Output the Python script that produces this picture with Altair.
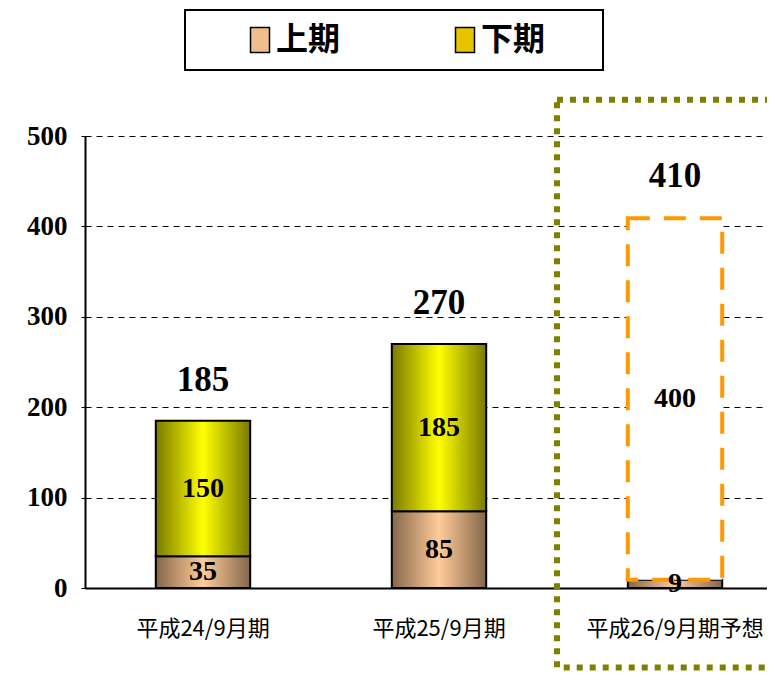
import altair as alt
import pandas as pd

categories = ["平成24/9月期", "平成25/9月期", "平成26/9月期予想"]
first_half = [35, 85, 9]
second_half = [150, 185, 400]
totals = [185, 270, 410]
forecast = [False, False, True]
series_names = ["上期", "下期"]
y_ticks = [0, 100, 200, 300, 400, 500]

# highlight box around the forecast category (value units)
HL_TOP = 540
HL_BOTTOM = -88

rows = []
for c, a, b, f in zip(categories, first_half, second_half, forecast):
    rows.append(dict(cat=c, series="上期", start=0, end=a, mid=a / 2, label=str(a), fc=False))
    rows.append(dict(cat=c, series="下期", start=a, end=a + b, mid=a + b / 2, label=str(b), fc=f))
df = pd.DataFrame(rows)
tot = pd.DataFrame(dict(cat=categories, total=totals))
hl = pd.DataFrame(dict(cat=[categories[2]], top=[HL_TOP], bottom=[HL_BOTTOM]))

xscale = alt.Scale(domain=categories, paddingInner=0.6, paddingOuter=0.2449, align=0.6125)
yscale = alt.Scale(domain=[0, 500], nice=False)

xaxis = alt.Axis(title=None, labelFont="Noto Sans CJK JP", labelFontSize=22, labelColor="black",
                 labelPadding=30, ticks=False, domainColor="black", domainWidth=2, labelAngle=0, grid=False)
yaxis = alt.Axis(title=None, values=y_ticks, labelFont="Liberation Serif", labelFontWeight="bold",
                 labelFontSize=27, labelColor="black", labelPadding=14, tickSize=4, tickColor="black",
                 domainColor="black", domainWidth=2, gridColor="black", gridDash=[6, 5], gridWidth=1,
                 gridOpacity=1)

X = alt.X("cat:N", scale=xscale, axis=xaxis, sort=categories)

def grad(edge, center):
    return alt.Gradient(gradient="linear", x1=0, x2=1, y1=0, y2=0,
                        stops=[alt.GradientStop(color=edge, offset=0),
                               alt.GradientStop(color=center, offset=0.5),
                               alt.GradientStop(color=edge, offset=1)])

base = alt.Chart(df).encode(x=X, y=alt.Y("start:Q", scale=yscale, axis=yaxis), y2="end:Q")

flat = base.mark_bar().encode(
    color=alt.Color("series:N", scale=alt.Scale(domain=series_names, range=["#F0BE8C", "#E8C400"]),
                    legend=alt.Legend(orient="none", legendX=100, legendY=-126, direction="horizontal",
                                      columns=2, title="\u3000", titleOrient="right", titleFontSize=32,
                                      titlePadding=44, titleColor="white",
                                      padding=14, strokeColor="black",
                                      fillColor="white", labelFont="Noto Sans CJK JP", labelFontSize=32,
                                      labelFontWeight="bold", labelColor="black",
                                      labelExpr="datum.label + '\u3000 '",
                                      symbolType="M-0.76,-1H0.76V1H-0.76Z", symbolSize=625,
                                      symbolStrokeColor="black", symbolStrokeWidth=1.5,
                                      symbolOffset=45, labelOffset=0, columnPadding=63))
).transform_filter("!datum.fc")

up = base.mark_bar(fill=grad("#85664A", "#FFCC99"), stroke="black", strokeWidth=2).transform_filter(
    "datum.series == '上期'")
dn = base.mark_bar(fill=grad("#7A7A00", "#FFFF00"), stroke="black", strokeWidth=2).transform_filter(
    "datum.series == '下期' && !datum.fc")
fc = base.mark_bar(fill="white", stroke="#FF9900", strokeWidth=4, strokeDash=[22, 14]).transform_filter(
    "datum.fc")

seg_text = alt.Chart(df).mark_text(font="Liberation Serif", fontWeight="bold", fontSize=28,
                                   baseline="middle", color="black").encode(
    x=X, y=alt.Y("mid:Q", scale=yscale), text="label:N")

tot_text = alt.Chart(tot).mark_text(font="Liberation Serif", fontWeight="bold", fontSize=35,
                                    baseline="alphabetic", dy=-30, color="black").encode(
    x=X, y=alt.Y("total:Q", scale=yscale), text="total:Q")

hl_box = alt.Chart(hl).mark_bar(width=alt.RelativeBandSize(2.5), fill="white", fillOpacity=0,
                                stroke="#808000", strokeWidth=6, strokeDash=[6, 7]).encode(
    x=X, y=alt.Y("top:Q", scale=yscale), y2="bottom:Q")

chart = alt.layer(flat, up, dn, fc, seg_text, tot_text, hl_box).properties(
    width=682, height=452,
    autosize=alt.AutoSizeParams(type="none"),
    padding={"left": 77, "top": 128, "right": 0, "bottom": 84},
).configure_view(stroke=None).configure_legend(strokeWidth=2)

chart.save("out.html", embed_options={"renderer": "svg", "actions": False})
